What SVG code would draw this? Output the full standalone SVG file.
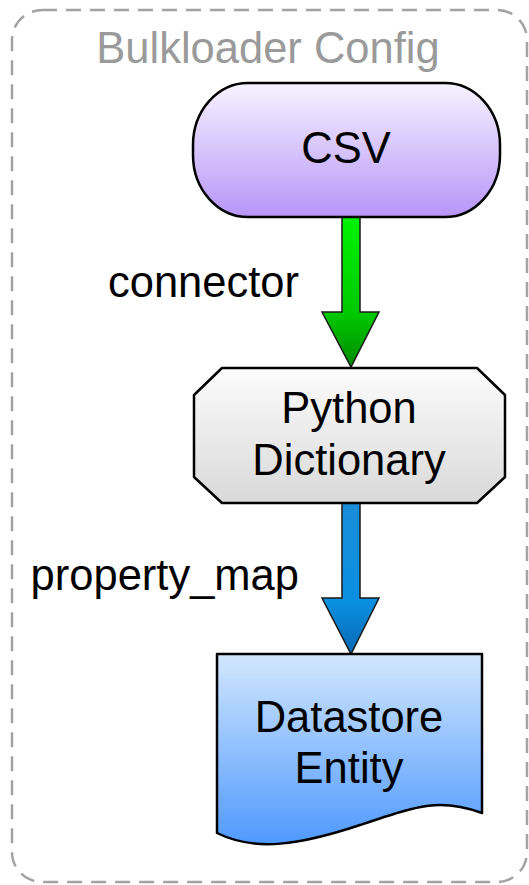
<svg xmlns="http://www.w3.org/2000/svg" width="529" height="885" viewBox="0 0 529 885">
  <style>
    .lbl { font-family: "Liberation Sans", Arial, sans-serif; font-size: 43.5px; fill: #000; }
    .mid { text-anchor: middle; }
    .end { text-anchor: end; }
    .title { font-family: "Liberation Sans", Arial, sans-serif; font-size: 43.5px; fill: #9a9a9a; text-anchor: middle; }
    .node { stroke: #000; stroke-width: 2.5; stroke-linejoin: round; }
    .arrow { stroke: #1a1a1a; stroke-width: 1.5; stroke-linejoin: miter; }
  </style>
  <defs>
    <linearGradient id="gCsv" x1="0" y1="0" x2="0" y2="1">
      <stop offset="0" stop-color="#f7f3ff"/>
      <stop offset="1" stop-color="#b795f8"/>
    </linearGradient>
    <linearGradient id="gDict" x1="0" y1="0" x2="0" y2="1">
      <stop offset="0" stop-color="#fcfcfc"/>
      <stop offset="1" stop-color="#d9d9d9"/>
    </linearGradient>
    <linearGradient id="gDoc" x1="0" y1="0" x2="0" y2="1">
      <stop offset="0" stop-color="#d2e7fd"/>
      <stop offset="1" stop-color="#4f99fe"/>
    </linearGradient>
    <linearGradient id="gGreen" x1="0" y1="0" x2="0" y2="1">
      <stop offset="0" stop-color="#00f400"/>
      <stop offset="0.65" stop-color="#00c800"/>
      <stop offset="1" stop-color="#008a00"/>
    </linearGradient>
    <linearGradient id="gBlue" x1="0" y1="0" x2="0" y2="1">
      <stop offset="0" stop-color="#1a8dd8"/>
      <stop offset="0.65" stop-color="#0990e0"/>
      <stop offset="1" stop-color="#0868b4"/>
    </linearGradient>
  </defs>

  <!-- container -->
  <g id="bulkloader-config">
    <rect x="12" y="10" width="515" height="872" rx="30" ry="30" fill="none" stroke="#a3a3a3" stroke-width="2.5" stroke-dasharray="15 9"/>
    <text class="title" x="268" y="63">Bulkloader Config</text>
  </g>

  <!-- connectors -->
  <g id="connectors">
    <path class="arrow" fill="url(#gGreen)" d="M342,217 H360 V312 H379 L351,367 L322,312 H342 Z"/>
    <text class="lbl end" x="299" y="297">connector</text>
    <path class="arrow" fill="url(#gBlue)" d="M342,503 H360 V598 H379 L351,654 L322,598 H342 Z"/>
    <text class="lbl end" x="299" y="590">property_map</text>
  </g>

  <g id="csv">
    <rect class="node" x="193" y="83" width="307" height="134" rx="55" ry="62" fill="url(#gCsv)"/>
    <text class="lbl mid" x="346" y="163">CSV</text>
  </g>

  <g id="python-dictionary">
    <polygon class="node" fill="url(#gDict)" points="222,368 477,368 505,395 505,477 477,503 222,503 194,477 194,395"/>
    <text class="lbl mid" x="349" y="423">Python</text>
    <text class="lbl mid" x="349" y="475">Dictionary</text>
  </g>

  <g id="datastore-entity">
    <path class="node" fill="url(#gDoc)" d="M217,654 H482 V813 C440,798 420,805 360,825 C300,845 255,852 217,833 Z"/>
    <text class="lbl mid" x="349" y="732">Datastore</text>
    <text class="lbl mid" x="349" y="783">Entity</text>
  </g>
</svg>
